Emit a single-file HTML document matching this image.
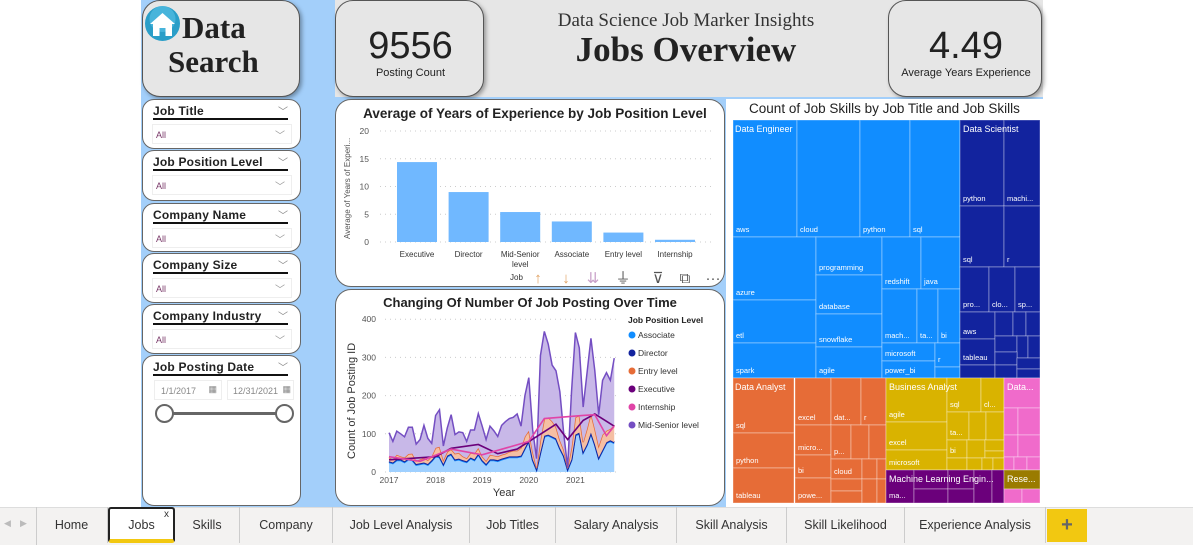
<!DOCTYPE html>
<html><head><meta charset="utf-8">
<style>
*{box-sizing:border-box;margin:0;padding:0}
body{width:1193px;height:545px;overflow:hidden;background:#fff;font-family:"Liberation Sans",sans-serif;position:relative}
.abs{position:absolute}
.card{position:absolute;background:#fff;border:1px solid #666;border-radius:12px}
.gcard{position:absolute;background:#e6e6e6;border:1.5px solid #555;border-radius:18px;box-shadow:2px 2px 4px rgba(0,0,0,.35)}
.slicer .t{position:absolute;left:10px;top:4px;font-size:12px;font-weight:bold;color:#222;letter-spacing:.2px}
.slicer .ul{position:absolute;left:10px;right:12px;top:18px;border-top:2px solid #111}
.slicer .chev{position:absolute;right:12px;top:3px;font-size:10px;color:#888}
.slicer .dd{position:absolute;left:9px;right:8px;top:24px;height:20px;border:1px solid #eee;font-size:9px;color:#7a3a6a;padding:5px 3px}
.slicer .dd span{position:absolute;right:6px;top:2px;color:#999;font-size:10px}
.tab{position:absolute;top:507px;height:36px;line-height:36px;font-size:12.5px;color:#333;text-align:center;border-right:1px solid #ccc}
.ttl{position:absolute;font-family:'Liberation Serif',serif;font-weight:bold;font-size:31px;line-height:31px;color:#222}
</style></head><body>
<div class="abs" style="left:141px;top:0;width:902px;height:507px;background:#a3cffa"></div>
<div class="abs" style="left:0;top:0;width:141px;height:507px;background:#fff"></div>
<div class="abs" style="left:335px;top:0;width:708px;height:97px;background:#e6e6e6"></div>

<div class="gcard" style="left:142px;top:0;width:158px;height:97px">
 <svg class="abs" style="left:1px;top:4px" width="37" height="37"><circle cx="18.5" cy="18.5" r="17.5" fill="#2a9ec8"/><circle cx="18.5" cy="14" r="13" fill="#5cc3e8" opacity=".6"/><path d="M6 19 L18.5 8 L31 19 L28 19 L28 31 L21.5 31 L21.5 23 L15.5 23 L15.5 31 L9 31 L9 19Z" fill="#fff"/></svg>
 <div class="ttl" style="left:39px;top:11px">Data</div>
 <div class="ttl" style="left:25px;top:45px">Search</div>
</div>

<div class="gcard" style="left:335px;top:0;width:149px;height:97px">
 <div class="abs" style="left:0;top:24px;width:149px;text-align:center;font-size:38px;color:#222">9556</div>
 <div class="abs" style="left:0;top:66px;width:149px;text-align:center;font-size:11px;color:#222">Posting Count</div>
</div>
<div class="abs" style="left:484px;top:10px;width:404px;text-align:center;font-family:'Liberation Serif',serif;font-size:19px;color:#333">Data Science Job Marker Insights</div>
<div class="abs" style="left:484px;top:30px;width:404px;text-align:center;font-family:'Liberation Serif',serif;font-weight:bold;font-size:35px;color:#222">Jobs Overview</div>
<div class="gcard" style="left:888px;top:0;width:154px;height:97px">
 <div class="abs" style="left:0;top:24px;width:154px;text-align:center;font-size:38px;color:#222">4.49</div>
 <div class="abs" style="left:0;top:66px;width:154px;text-align:center;font-size:11px;color:#222">Average Years Experience</div>
</div>

<!-- slicers -->
<div class="card slicer" style="left:142px;top:99px;width:159px;height:50px"><div class="t">Job Title</div><div class="chev">﹀</div><div class="ul"></div><div class="dd">All<span>﹀</span></div></div>
<div class="card slicer" style="left:142px;top:150px;width:159px;height:51px"><div class="t">Job Position Level</div><div class="chev">﹀</div><div class="ul"></div><div class="dd">All<span>﹀</span></div></div>
<div class="card slicer" style="left:142px;top:203px;width:159px;height:49px"><div class="t">Company Name</div><div class="chev">﹀</div><div class="ul"></div><div class="dd">All<span>﹀</span></div></div>
<div class="card slicer" style="left:142px;top:253px;width:159px;height:50px"><div class="t">Company Size</div><div class="chev">﹀</div><div class="ul"></div><div class="dd">All<span>﹀</span></div></div>
<div class="card slicer" style="left:142px;top:304px;width:159px;height:50px"><div class="t">Company Industry</div><div class="chev">﹀</div><div class="ul"></div><div class="dd">All<span>﹀</span></div></div>
<div class="card slicer" style="left:142px;top:355px;width:159px;height:151px"><div class="t">Job Posting Date</div><div class="chev">﹀</div><div class="ul"></div>
 <div class="abs" style="left:11px;top:24px;width:68px;height:20px;border:1px solid #eee;font-size:9px;color:#888;padding:5px 6px">1/1/2017 <span style="position:absolute;right:4px;top:3px">▦</span></div>
 <div class="abs" style="left:84px;top:24px;width:67px;height:20px;border:1px solid #eee;font-size:9px;color:#888;padding:5px 5px">12/31/2021 <span style="position:absolute;right:2px;top:3px">▦</span></div>
 <div class="abs" style="left:22px;top:56px;width:120px;height:3px;background:#666"></div>
 <div class="abs" style="left:12px;top:48px;width:19px;height:19px;border:2px solid #666;border-radius:50%;background:#fff"></div>
 <div class="abs" style="left:132px;top:48px;width:19px;height:19px;border:2px solid #666;border-radius:50%;background:#fff"></div>
</div>

<!-- bar chart -->
<div class="card" style="left:335px;top:99px;width:390px;height:188px;border-radius:16px">
<svg id="bar" width="390" height="188" style="position:absolute;left:-1px;top:-1px"></svg></div>
<!-- line chart -->
<div class="card" style="left:335px;top:289px;width:390px;height:217px;border-radius:16px">
<svg id="line" width="390" height="217" style="position:absolute;left:-1px;top:-1px"></svg></div>
<!-- treemap -->
<div class="abs" style="left:726px;top:99px;width:317px;height:408px;background:#fff">
 <div class="abs" style="left:0;top:2px;width:317px;text-align:center;font-size:13.5px;color:#222">Count of Job Skills by Job Title and Job Skills</div>
 <svg id="tree" width="317" height="408" style="position:absolute;left:0;top:0"></svg>
</div>

<!-- tabs -->
<div class="abs" style="left:0;top:507px;width:1193px;height:38px;background:#f3f2f1;border-top:1px solid #ddd"></div>
<div class="abs" style="left:4px;top:518px;font-size:9px;color:#bbb">◀</div>
<div class="abs" style="left:20px;top:518px;font-size:9px;color:#bbb">▶</div>
<div class="abs" style="left:36px;top:507px;height:38px;border-left:1px solid #ccc"></div>
<div class="tab" style="left:36px;width:72px">Home</div>
<div class="tab" style="left:108px;width:67px;background:#fff;border:2px solid #222;border-bottom:4px solid #f2c811;border-radius:3px;height:36px;line-height:32px">Jobs<span style="position:absolute;right:4px;top:-10px;font-size:10px">x</span></div>
<div class="tab" style="left:175px;width:65px">Skills</div>
<div class="tab" style="left:240px;width:93px">Company</div>
<div class="tab" style="left:333px;width:137px">Job Level Analysis</div>
<div class="tab" style="left:470px;width:86px">Job Titles</div>
<div class="tab" style="left:556px;width:121px">Salary Analysis</div>
<div class="tab" style="left:677px;width:110px">Skill Analysis</div>
<div class="tab" style="left:787px;width:118px">Skill Likelihood</div>
<div class="tab" style="left:905px;width:141px">Experience Analysis</div>
<div class="abs" style="left:1047px;top:509px;width:40px;height:33px;background:#f2c811;color:#666;font-size:20px;font-weight:bold;text-align:center;line-height:32px">+</div>

<script>
const NS='http://www.w3.org/2000/svg';
function mk(p,t,a,txt){const e=document.createElementNS(NS,t);for(const k in a)e.setAttribute(k,a[k]);if(txt!==undefined)e.textContent=txt;p.appendChild(e);return e;}

// ---------- bar chart ----------
const barCategories=['Executive','Director','Mid-Senior level','Associate','Entry level','Internship'];
const barValues=[14.4,9.0,5.4,3.7,1.7,0.4];
const barTicks=[0,5,10,15,20];
(function(){
 const s=document.getElementById('bar');
 const y=v=>143-v/20*111, x0=62, step=51.6;
 let t=mk(s,'text',{x:200,y:19,'text-anchor':'middle','font-size':13.5,'font-weight':'bold',fill:'#222'},'Average of Years of Experience by Job Position Level');
 
 barTicks.forEach(v=>{mk(s,'line',{x1:45,x2:380,y1:y(v),y2:y(v),stroke:'#ccc','stroke-dasharray':'1 4'});
  const l=mk(s,'text',{x:34,y:y(v)+3,'text-anchor':'end','font-size':8.5,fill:'#555'},v);
  });
 const yt=mk(s,'text',{transform:'translate(15,140) rotate(-90)','font-size':8,fill:'#555'},'Average of Years of Experi...');
 
 barValues.forEach((v,i)=>{const cx=x0+20+i*step;
  const r=mk(s,'rect',{x:cx-20,y:y(v),width:40,height:y(0)-y(v),fill:'#70b8ff'});
  
  const parts=barCategories[i]==='Mid-Senior level'?['Mid-Senior','level']:[barCategories[i]];
  parts.forEach((p,j)=>{const l=mk(s,'text',{x:cx,y:158+j*10,'text-anchor':'middle','font-size':8,fill:'#333'},p);
   });
 });
 const ic=mk(s,'text',{x:175,y:181,'font-size':8,fill:'#333'},'Job');
 const icons=[['↑',203,'#e0a060'],['↓',231,'#e0a060'],['⇊',258,'#c8a0c8'],['⏚',288,'#555'],['⊽',323,'#555'],['⧉',350,'#555'],['···',378,'#555']];
 icons.forEach(a=>{const e=mk(s,'text',{x:a[1],y:184,'font-size':15,fill:a[2],'text-anchor':'middle'},a[0]);});
})();

// ---------- line chart ----------
const yearLabels=['2017','2018','2019','2020','2021'];
const lineTicks=[0,100,200,300,400];
const associate=[25,22,30,30,25,32,30,18,20,22,18,28,40,38,18,40,45,30,32,28,25,35,30,45,28,18,30,30,28,32,35,38,38,38,40,60,80,30,5,50,92,95,90,85,60,40,5,30,95,100,50,70,100,70,35,55,75,80,75];
const director=[3,3,3,3,3,3,3,3,3,3,3,3,3,3,3,3,3,3,3,3,3,3,3,3,3,3,3,3,3,3,3,3,3,3,3,3,3,3,3,3,3,3,3,3,3,3,3,3,3,3,3,3,3,3,3,3,3,3,3];
const entryLevel=[10,8,12,8,10,12,15,8,10,12,10,10,20,25,10,10,12,15,15,10,8,12,15,15,10,8,12,10,10,10,10,12,15,15,20,30,25,20,3,30,45,45,40,30,20,15,3,30,45,45,25,40,50,40,30,40,30,30,45];
const midSenior=[65,47,62,59,54,70,69,44,52,85,57,34,85,97,37,62,90,50,55,62,44,60,62,90,79,56,75,65,52,77,84,87,87,96,57,107,139,57,24,222,228,192,147,147,127,42,1,147,222,177,92,147,197,152,82,142,152,127,175];
const executiveMonths=[0,12,16,23,28,33,43,46,50,53,58];
const executiveVals=[32,40,62,72,48,60,125,85,135,152,120];
const internshipMonths=[0,8,16,24,36,40,50,53,56,58];
const internshipVals=[40,28,60,45,80,140,148,150,95,120];
(function(){
 const s=document.getElementById('line');
 const X=m=>54+m*46.6/12, Y=v=>183-v*0.382;
 let t=mk(s,'text',{x:195,y:18,'text-anchor':'middle','font-size':13,'font-weight':'bold',fill:'#222'},'Changing Of Number Of Job Posting Over Time');
 
 lineTicks.forEach(v=>{mk(s,'line',{x1:50,x2:285,y1:Y(v),y2:Y(v),stroke:'#ccc','stroke-dasharray':'1 4'});
  const l=mk(s,'text',{x:41,y:Y(v)+3,'text-anchor':'end','font-size':8.5,fill:'#555'},v);});
 yearLabels.forEach((yl,i)=>{const l=mk(s,'text',{x:X(i*12),y:194,'text-anchor':'middle','font-size':8.5,fill:'#555'},yl);});
 let a=mk(s,'text',{x:169,y:207,'text-anchor':'middle','font-size':11,fill:'#333'},'Year');
 a=mk(s,'text',{transform:'translate(20,170) rotate(-90)','font-size':11,fill:'#333'},'Count of Job Posting ID');
 const series=[['associate',associate,'#9fd0ff','#118DFF'],['director',director,'#4a58b8','#12239E'],['entry-level',entryLevel,'#f5bfa3','#E66C37'],['mid-senior-level',midSenior,'#c8b8e8','#744EC2']];
 const n=associate.length;let base=new Array(n).fill(0);
 series.forEach(sr=>{const top=base.map((b,i)=>b+sr[1][i]);
  let d='';for(let i=0;i<n;i++)d+=(i?'L':'M')+X(i)+' '+Y(top[i]);
  for(let i=n-1;i>=0;i--)d+='L'+X(i)+' '+Y(base[i]);
  const ar=mk(s,'path',{d:d+'Z',fill:sr[2],stroke:'none'});
  let ld='';for(let i=0;i<n;i++)ld+=(i?'L':'M')+X(i)+' '+Y(top[i]);
  const ln=mk(s,'path',{d:ld,fill:'none',stroke:sr[3],'stroke-width':sr[0]==='director'?2:1.5});
  base=top;});
 [['executive',executiveMonths,executiveVals,'#6B007B'],['internship',internshipMonths,internshipVals,'#E044A7']].forEach(sr=>{
  let d='';sr[1].forEach((m,i)=>d+=(i?'L':'M')+X(m)+' '+Y(sr[2][i]));
  const ln=mk(s,'path',{d:d,fill:'none',stroke:sr[3],'stroke-width':1.6});});
 const lg=mk(s,'text',{x:293,y:34,'font-size':8.5,'font-weight':'bold',fill:'#222'},'Job Position Level');
 const leg=[['Associate','#118DFF'],['Director','#12239E'],['Entry level','#E66C37'],['Executive','#6B007B'],['Internship','#E044A7'],['Mid-Senior level','#744EC2']];
 leg.forEach((l,i)=>{const g=mk(s,'g',{});
  mk(g,'circle',{cx:297,cy:46+i*18,r:3.5,fill:l[1]});mk(g,'text',{x:303,y:49+i*18,'font-size':8.5,fill:'#333'},l[0]);});
})();

// ---------- treemap (cells: group, label, x, y, w, h in card coords) ----------
const treeGroups=[['Data Engineer','#118DFF'],['Data Scientist','#12239E'],['Data Analyst','#E66C37'],['Business Analyst','#D9B300'],['Machine Learning Engin...','#6B007B'],['Data...','#F06BCB'],['Rese...','#9A7B00']];
const treeCells=[
[0,'aws',7,21,64,117],[0,'cloud',71,21,63,117],[0,'python',134,21,50,117],[0,'sql',184,21,50,117],
[0,'azure',7,138,83,63],[0,'etl',7,201,83,43],[0,'spark',7,244,83,35],
[0,'programming',90,138,66,38],[0,'database',90,176,66,39],[0,'snowflake',90,215,66,33],[0,'agile',90,248,66,31],
[0,'redshift',156,138,39,52],[0,'java',195,138,39,52],[0,'mach...',156,190,35,54],[0,'ta...',191,190,21,54],[0,'bi',212,190,22,54],
[0,'microsoft',156,244,53,18],[0,'power_bi',156,262,53,17],[0,'r',209,244,25,24],[0,'',209,268,25,11],
[1,'python',234,21,44,86],[1,'machi...',278,21,36,86],[1,'sql',234,107,44,61],[1,'r',278,107,36,61],
[1,'pro...',234,168,29,45],[1,'clo...',263,168,26,45],[1,'sp...',289,168,25,45],
[1,'aws',234,213,35,27],[1,'tableau',234,240,35,26],[1,'',234,266,35,13],[1,'',269,213,18,24],[1,'',287,213,13,24],[1,'',300,213,14,24],[1,'',269,237,22,16],[1,'',291,237,11,22],[1,'',302,237,12,22],[1,'',269,253,22,13],[1,'',269,266,22,13],[1,'',291,259,23,11],[1,'',291,270,23,9],
[2,'sql',7,279,61,55],[2,'python',7,334,61,35],[2,'tableau',7,369,61,35],
[2,'excel',69,279,36,47],[2,'dat...',105,279,30,47],[2,'r',135,279,25,47],
[2,'micro...',69,326,36,30],[2,'bi',69,356,36,23],[2,'powe...',69,379,36,25],
[2,'p...',105,326,20,34],[2,'',125,326,18,34],[2,'',143,326,17,34],[2,'cloud',105,360,31,20],[2,'',136,360,15,20],[2,'',151,360,9,20],[2,'',105,380,31,12],[2,'',105,392,31,12],[2,'',136,380,15,24],[2,'',151,380,9,24],
[3,'agile',160,279,61,44],[3,'excel',160,323,61,28],[3,'microsoft',160,351,61,20],
[3,'sql',221,279,34,34],[3,'cl...',255,279,23,34],[3,'ta...',221,313,22,28],[3,'',243,313,17,28],[3,'',260,313,18,28],[3,'bi',221,341,20,18],[3,'',241,341,18,18],[3,'',259,341,19,11],[3,'',259,352,19,7],[3,'',221,359,20,12],[3,'',241,359,15,12],[3,'',256,359,11,12],[3,'',267,359,11,12],
[4,'ma...',160,371,28,33],[4,'',188,371,34,19],[4,'',188,390,34,14],[4,'',222,371,26,19],[4,'',222,390,26,14],[4,'',248,371,18,33],[4,'',266,371,12,33],
[5,'',278,279,36,30],[5,'',278,309,14,27],[5,'',292,309,22,27],[5,'',278,336,14,22],[5,'',292,336,22,22],[5,'',278,358,10,13],[5,'',288,358,13,13],[5,'',301,358,13,13],
[6,'',278,371,36,19],[5,'',278,390,18,14],[5,'',296,390,18,14]
];
(function(){
 const s=document.getElementById('tree');
 treeCells.forEach(c=>{const g=treeGroups[c[0]];
  const r=mk(s,'rect',{x:c[2],y:c[3],width:c[4],height:c[5],fill:g[1],stroke:'rgba(255,255,255,0.35)','stroke-width':1});
  
  if(c[1]){const t=mk(s,'text',{x:c[2]+3,y:c[3]+c[5]-5,'font-size':7.5,fill:'#fff'},c[1]);}
 });
 const gl=[[0,9,33],[1,237,33],[2,9,291],[3,163,291],[4,163,383],[5,281,291],[6,281,383]];
 gl.forEach(g=>{const t=mk(s,'text',{x:g[1],y:g[2],'font-size':9,fill:'#fff'},treeGroups[g[0]][0]);});
})();
</script>
</body></html>
